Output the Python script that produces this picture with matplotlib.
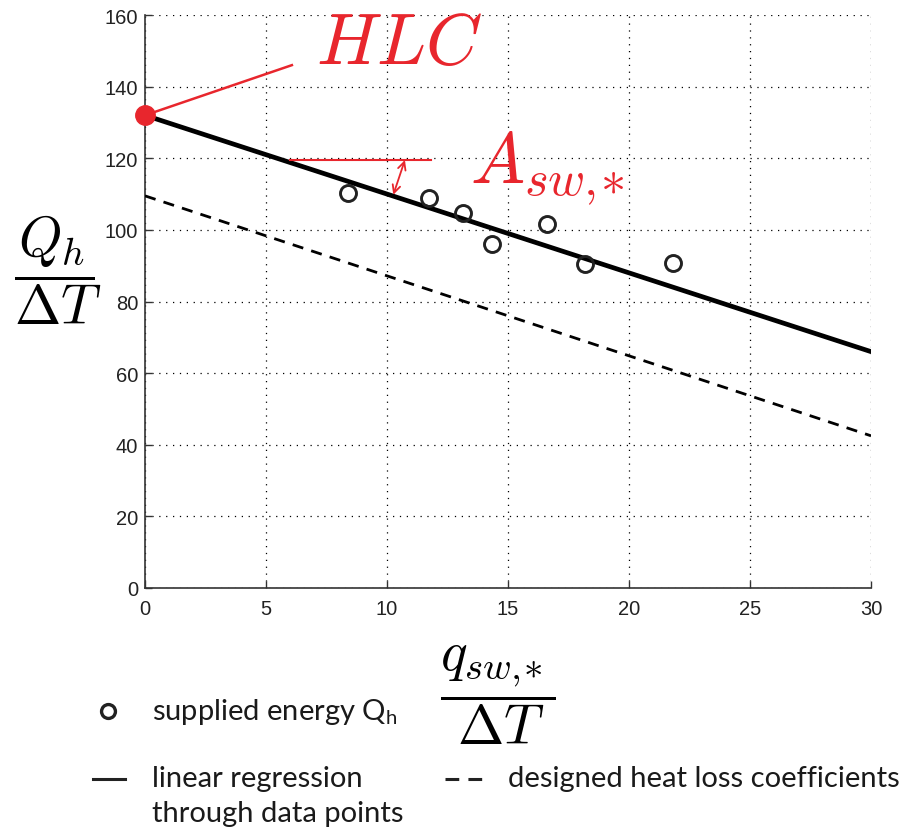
import matplotlib
matplotlib.use("Agg")
import matplotlib.pyplot as plt
from matplotlib.lines import Line2D

plt.rcParams['mathtext.fontset'] = 'cm'
plt.rcParams['font.family'] = ['Liberation Sans', 'DejaVu Sans']

# measured points: q_sw / dT against Q_h / dT
q_sw = [8.4, 11.75, 13.15, 14.35, 16.6, 18.2, 21.8]
q_h = [110.2, 109.0, 104.8, 96.0, 101.7, 90.4, 90.8]

# line ends at x = 0 and x = 30
x_ends = [0, 30]
regression = [132.0, 66.0]
designed = [109.5, 42.5]

# HLC intercept marker and the A_sw,* annotation
hlc = 132.0
hlc_pointer = [(0, 132.0), (6.07, 146.0)]
asw_level = [(6.0, 119.5), (11.8, 119.5)]
asw_arrow = [(10.74, 119.5), (10.26, 109.8)]

x_ticks = [0, 5, 10, 15, 20, 25, 30]
y_ticks = [0, 20, 40, 60, 80, 100, 120, 140, 160]

red = '#e8262d'
W, H = 920, 829


def px(x, y):
    return x / W, 1 - y / H


fig = plt.figure(figsize=(W / 100, H / 100), dpi=100)
ax = fig.add_axes([145 / W, 1 - 589 / H, (871 - 145) / W, (589 - 16) / H])

ax.plot(x_ends, regression, color='black', lw=3.4, solid_capstyle='round', zorder=3)
ax.plot(x_ends, designed, color='black', lw=2.0, ls=(0, (4, 3)), zorder=3)
ax.plot(q_sw, q_h, 'o', ms=11.5, mfc='none', mec='#222222', mew=2.1, zorder=4)

# HLC point and pointer line
ax.plot(*zip(*hlc_pointer), color=red, lw=1.8, clip_on=False, zorder=5)
ax.plot([0], [hlc], 'o', color=red, ms=14, clip_on=False, zorder=6)

# A_sw,* marker: level line and double arrow down to the regression line
ax.plot(*zip(*asw_level), color=red, lw=1.5, zorder=5)
ax.annotate('', xy=asw_arrow[1], xytext=asw_arrow[0],
            arrowprops=dict(arrowstyle='<->', color=red, lw=1.3,
                            shrinkA=0, shrinkB=0, mutation_scale=14))

ax.set_xlim(0, 30)
ax.set_ylim(0, 160)
ax.set_xticks(x_ticks)
ax.set_yticks(y_ticks)
ax.grid(True, color='black', ls=(0, (1, 4.5)), lw=0.9)
ax.set_axisbelow(True)
for side in ['top', 'right']:
    ax.spines[side].set_visible(False)
for side in ['left', 'bottom']:
    ax.spines[side].set_color('#333333')
    ax.spines[side].set_linewidth(1.2)
ax.tick_params(direction='in', length=5, width=1, color='#333333',
               labelsize=14.5, labelcolor='#222222')
ax.tick_params(axis='x', pad=8)
ax.tick_params(axis='y', pad=5)

# axis labels as fractions
fig.text(*px(58, 270), r'$\dfrac{Q_h}{\Delta T}$', fontsize=40, ha='center', va='center')
fig.text(*px(498, 695), r'$\dfrac{q_{sw,\!\!*}}{\Delta T}$', fontsize=40, ha='center', va='center')

# red annotations
fig.text(*px(316, 64), r'$HLC$', fontsize=52, color=red, va='baseline')
fig.text(*px(470, 183), r'$A_{sw,\!\!*}$', fontsize=52, color=red, va='baseline')

# legend below the plot
leg_font = dict(family=['Liberation Sans Narrow', 'Lato'], fontsize=21, color='#1a1a1a')
fig.add_artist(Line2D([px(108, 712)[0]], [px(108, 712)[1]], marker='o', ms=10,
                      mfc='none', mec='#222222', mew=2.4, transform=fig.transFigure))
fig.text(*px(152, 720), r'supplied energy $\mathregular{Q_h}$', va='baseline', **leg_font)

fig.add_artist(Line2D([px(93, 0)[0], px(125, 0)[0]], [px(0, 780)[1]] * 2,
                      color='#222222', lw=2.2, transform=fig.transFigure))
fig.text(*px(152, 787), 'linear regression', va='baseline', **leg_font)
fig.text(*px(152, 822), 'through data points', va='baseline', **leg_font)

fig.add_artist(Line2D([px(445, 0)[0], px(490, 0)[0]], [px(0, 780)[1]] * 2,
                      color='#222222', lw=2.2, ls=(0, (4.5, 3)), transform=fig.transFigure))
fig.text(*px(508, 787), 'designed heat loss coefficients', va='baseline', **leg_font)

fig.savefig('out.png', dpi=100)
